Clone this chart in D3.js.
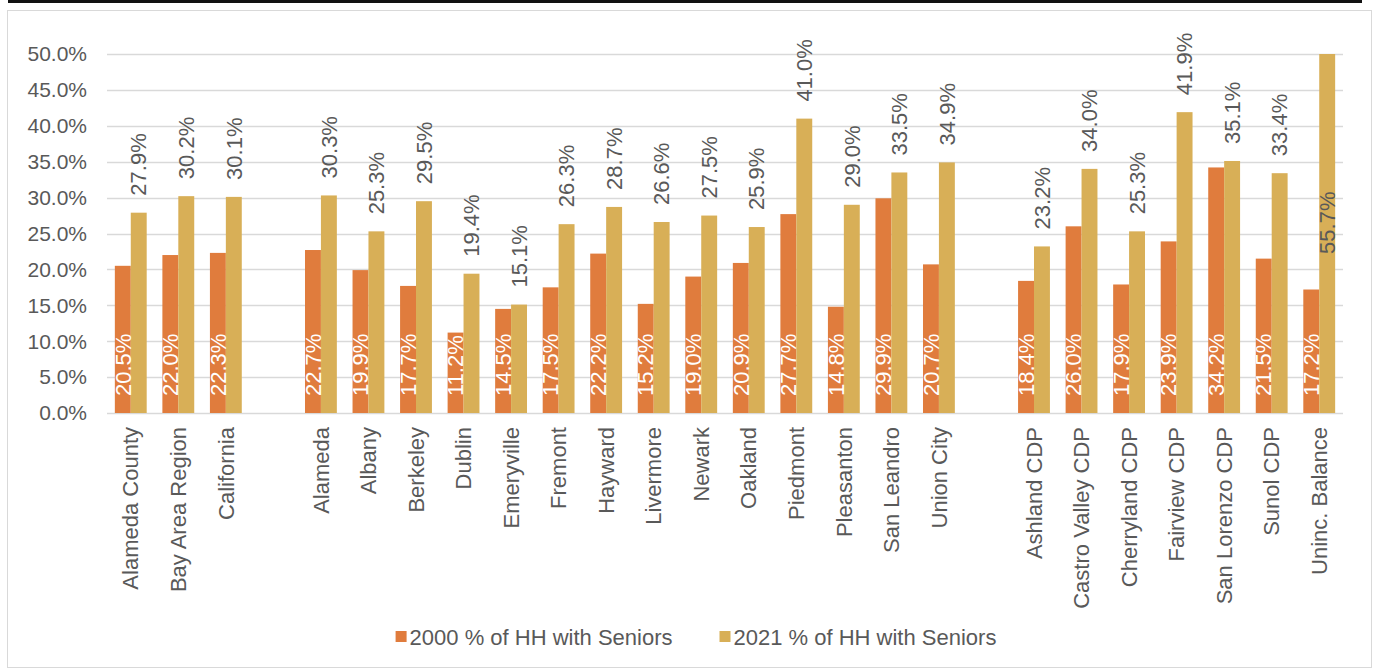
<!DOCTYPE html>
<html>
<head>
<meta charset="utf-8">
<script src="https://cdn.jsdelivr.net/npm/d3@7"></script>
<style>
  body { margin: 0; background: #fff; }
  svg { display: block; font-family: "Liberation Sans", Arial, sans-serif; }
</style>
</head>
<body>
<svg id="chart" width="1374" height="671"></svg>
<script>
// Data
const countyRegion = ["Alameda County", "Bay Area Region", "California"];
const cities = ["Alameda", "Albany", "Berkeley", "Dublin", "Emeryville", "Fremont", "Hayward",
  "Livermore", "Newark", "Oakland", "Piedmont", "Pleasanton", "San Leandro", "Union City"];
const unincorporated = ["Ashland CDP", "Castro Valley CDP", "Cherryland CDP", "Fairview CDP",
  "San Lorenzo CDP", "Sunol CDP", "Uninc. Balance"];

const categories = [...countyRegion, ...cities, ...unincorporated];
const pct2000 = [20.5, 22.0, 22.3, 22.7, 19.9, 17.7, 11.2, 14.5, 17.5, 22.2, 15.2, 19.0, 20.9,
  27.7, 14.8, 29.9, 20.7, 18.4, 26.0, 17.9, 23.9, 34.2, 21.5, 17.2];
const pct2021 = [27.9, 30.2, 30.1, 30.3, 25.3, 29.5, 19.4, 15.1, 26.3, 28.7, 26.6, 27.5, 25.9,
  41.0, 29.0, 33.5, 34.9, 23.2, 34.0, 25.3, 41.9, 35.1, 33.4, 55.7];
const seriesNames = ["2000 % of HH with Seniors", "2021 % of HH with Seniors"];
const yTicks = [0, 5, 10, 15, 20, 25, 30, 35, 40, 45, 50];

const colors = ["#E07C3D", "#D8AF57"];
const textColor = "#595959";
const tickFont = 21;
const labelFont = 22;

// Slots with empty spacers between groups
const slots = [...countyRegion, "_gap1", ...cities, "_gap2", ...unincorporated];

const svg = d3.select("#chart");

// Top rule and frame
svg.append("line")
  .attr("x1", 8).attr("x2", 1362).attr("y1", 1.5).attr("y2", 1.5)
  .attr("stroke", "#111").attr("stroke-width", 3);
svg.append("rect")
  .attr("x", 7.5).attr("y", 10.5).attr("width", 1364).attr("height", 657)
  .attr("fill", "#fff").attr("stroke", "#d9d9d9");

const x = d3.scaleBand().domain(slots).range([107, 1343])
  .paddingInner(0.33).paddingOuter(0.165);
const xSub = d3.scaleBand().domain([0, 1]).range([0, x.bandwidth()]);
const y = d3.scaleLinear().domain([0, 50]).range([413, 54]);
const yMax = 50;

// Gridlines
svg.append("g")
  .selectAll("line")
  .data(yTicks)
  .join("line")
    .attr("x1", 107).attr("x2", 1343)
    .attr("y1", d => Math.round(y(d)) + 0.5)
    .attr("y2", d => Math.round(y(d)) + 0.5)
    .attr("stroke", "#d9d9d9").attr("stroke-width", 1.3);

// Y axis labels
svg.append("g")
  .selectAll("text")
  .data(yTicks)
  .join("text")
    .attr("x", 87)
    .attr("y", d => y(d))
    .attr("dy", "0.35em")
    .attr("text-anchor", "end")
    .attr("fill", textColor)
    .style("font-size", tickFont + "px")
    .text(d => d.toFixed(1) + "%");

// Bars
const rows = categories.map((c, i) => ({ cat: c, vals: [pct2000[i], pct2021[i]] }));
const groups = svg.append("g")
  .selectAll("g")
  .data(rows)
  .join("g")
    .attr("transform", d => `translate(${x(d.cat)},0)`);

groups.selectAll("rect")
  .data(d => d.vals.map((v, s) => ({ v, s })))
  .join("rect")
    .attr("x", d => xSub(d.s))
    .attr("width", xSub.bandwidth())
    .attr("y", d => y(Math.min(d.v, yMax)))
    .attr("height", d => y(0) - y(Math.min(d.v, yMax)))
    .attr("fill", d => colors[d.s]);

// 2000 labels: inside base, white
groups.append("text")
  .attr("transform", d => `translate(${xSub(0) + xSub.bandwidth() / 2},${y(0) - 17}) rotate(-90)`)
  .attr("dy", "0.35em")
  .attr("text-anchor", "start")
  .attr("fill", "#fff")
  .style("font-size", labelFont + "px")
  .text(d => d.vals[0].toFixed(1) + "%");

// 2021 labels: outside end, dark gray (clipped bar gets a label inside)
groups.append("text")
  .attr("transform", d => {
    const v = d.vals[1];
    const ty = v > yMax ? y(yMax * 0.53) : y(v) - 17;
    return `translate(${xSub(1) + xSub.bandwidth() / 2},${ty}) rotate(-90)`;
  })
  .attr("dy", "0.35em")
  .attr("text-anchor", d => d.vals[1] > yMax ? "middle" : "start")
  .attr("fill", textColor)
  .style("font-size", labelFont + "px")
  .text(d => d.vals[1].toFixed(1) + "%");

// Category labels
svg.append("g")
  .selectAll("text")
  .data(categories)
  .join("text")
    .attr("transform", d => `translate(${x(d) + x.bandwidth() / 2},427) rotate(-90)`)
    .attr("dy", "0.35em")
    .attr("text-anchor", "end")
    .attr("fill", textColor)
    .style("font-size", labelFont + "px")
    .text(d => d);

// Legend
const legend = svg.append("g");
const items = legend.selectAll("g")
  .data(seriesNames)
  .join("g");
items.append("rect")
  .attr("width", 11).attr("height", 11)
  .attr("y", 631)
  .attr("fill", (d, i) => colors[i]);
items.append("text")
  .attr("x", 14)
  .attr("y", 637)
  .attr("dy", "0.35em")
  .attr("fill", textColor)
  .style("font-size", labelFont + "px")
  .text(d => d);

let widths = [];
items.each(function() { widths.push(this.getBBox().width); });
const itemGap = 47;
const total = d3.sum(widths) + itemGap * (widths.length - 1);
let cursor = 696 - total / 2;
items.attr("transform", (d, i) => {
  const tx = cursor;
  cursor += widths[i] + itemGap;
  return `translate(${tx},0)`;
});
</script>
</body>
</html>
